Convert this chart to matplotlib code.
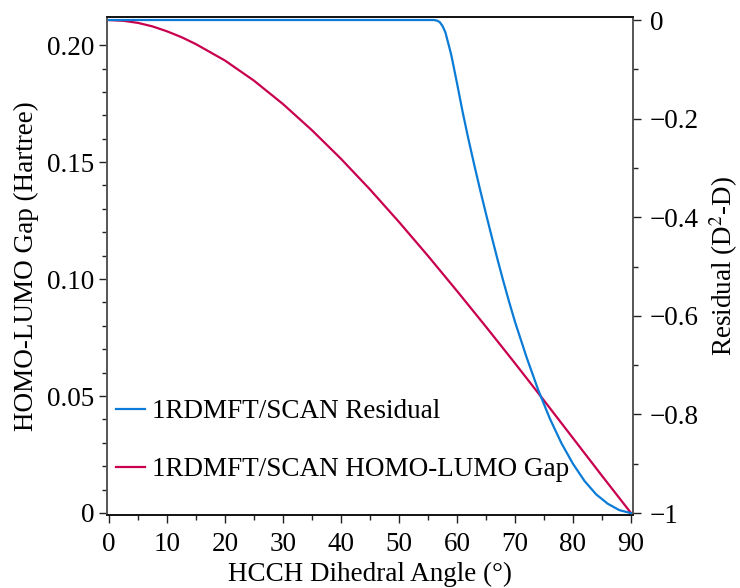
import matplotlib.pyplot as plt
from matplotlib.lines import Line2D

plt.rcParams['font.family'] = ['Liberation Serif', 'DejaVu Serif']
plt.rcParams['mathtext.fontset'] = 'stix'

# HOMO-LUMO gap (Hartree) vs HCCH dihedral angle (deg)
angle_gap = [0, 2.5, 5, 7.5, 10, 12.5, 15, 20, 25, 30, 35, 40, 45, 50, 55, 60,
             65, 70, 75, 80, 85, 90]
gap = [0.2107, 0.2104, 0.2095, 0.2080, 0.2059, 0.2034, 0.2004, 0.1934, 0.1848,
       0.1748, 0.1636, 0.1514, 0.1383, 0.1244, 0.1099, 0.0949, 0.0796, 0.0640,
       0.0481, 0.0320, 0.0159, 0.0]

# Residual (D^2-D)
angle_res = [0, 10, 20, 30, 40, 50, 55, 56, 56.5, 57, 57.5, 58, 59, 60, 61, 62,
             63, 64, 65, 66, 67, 68, 69, 70, 72, 74, 76, 78, 80, 82, 84, 86, 88, 90]
residual = [0, 0, 0, 0, 0, 0, 0, 0, -0.001, -0.004, -0.012, -0.025, -0.07, -0.128,
            -0.188, -0.243, -0.295, -0.345, -0.393, -0.44, -0.486, -0.53, -0.572,
            -0.612, -0.684, -0.75, -0.808, -0.858, -0.9, -0.935, -0.962, -0.981,
            -0.994, -1.0]

xticks = [0, 10, 20, 30, 40, 50, 60, 70, 80, 90]
yticks_left = [0, 0.05, 0.10, 0.15, 0.20]
ylabels_left = ['0', '0.05', '0.10', '0.15', '0.20']
yticks_right = [0, -0.2, -0.4, -0.6, -0.8, -1]
ylabels_right = ['0', '\u22120.2', '\u22120.4', '\u22120.6', '\u22120.8', '\u22121']

blue = '#0a7bd6'
red = '#c8004e'
fs = 19.5

fig = plt.figure(figsize=(7.4, 5.88), dpi=100)
ax = fig.add_axes([0.1446, 0.124, 0.7108, 0.847])
ax2 = ax.twinx()

ax.plot(angle_gap, gap, color=red, lw=1.6, zorder=3)
ax2.plot(angle_res, residual, color=blue, lw=1.6, zorder=3)

ax.set_xlim(-0.35, 90.35)
ax.set_ylim(-0.0009, 0.2120)
ax2.set_ylim(-1.004, 0.006)

ax.set_xticks(xticks)
ax.set_xticks(range(5, 90, 10), minor=True)
ax.set_yticks(yticks_left)
ax.set_yticklabels(ylabels_left)
ax.set_yticks([v / 100 for v in range(0, 21)], minor=True)
ax2.set_yticks(yticks_right)
ax2.set_yticklabels(ylabels_right)
ax2.set_yticks([-v / 10 for v in range(0, 11)], minor=True)

for a in (ax, ax2):
    a.tick_params(which='major', length=6, width=1, labelsize=fs, color='#222222')
    a.tick_params(which='minor', length=3.5, width=1, color='#222222')
ax.tick_params(axis='x', pad=6)
ax.tick_params(axis='y', pad=3)
ax2.tick_params(axis='y', pad=6)

for a in (ax, ax2):
    a.spines['left'].set_color('#555555')
    a.spines['right'].set_color('#555555')
    a.spines['top'].set_color('#111111')
    a.spines['bottom'].set_color('#111111')
    for s in a.spines.values():
        s.set_linewidth(1.2)

ax.set_xlabel('HCCH Dihedral Angle (\u00b0)', fontsize=fs, labelpad=4)
ax.set_ylabel('HOMO-LUMO Gap (Hartree)', fontsize=fs, labelpad=6)
ax2.set_ylabel('Residual (D$^2$-D)', fontsize=fs, labelpad=6, rotation=90)

handles = [Line2D([], [], color=blue, lw=1.6), Line2D([], [], color=red, lw=1.6)]
ax.legend(handles, ['1RDMFT/SCAN Residual', '1RDMFT/SCAN HOMO-LUMO Gap'],
          loc='lower left', bbox_to_anchor=(-0.034, 0.012), frameon=False,
          fontsize=fs, handlelength=1.05, handletextpad=0.28, labelspacing=1.21,
          borderaxespad=0.6)

fig.savefig('out.png', dpi=100)
